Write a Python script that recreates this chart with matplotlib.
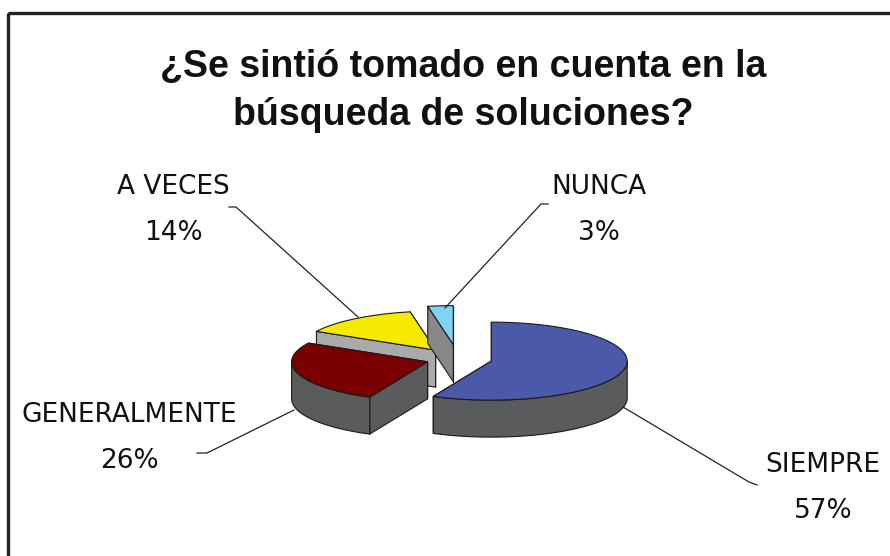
import numpy as np
import matplotlib
matplotlib.use("Agg")
import matplotlib.pyplot as plt
from matplotlib.patches import Polygon, Rectangle

# ---- data ----
categories = ["SIEMPRE", "GENERALMENTE", "A VECES", "NUNCA"]
values = [57, 26, 14, 3]
pct_labels = ["57%", "26%", "14%", "3%"]
title = "¿Se sintió tomado en cuenta en la\nbúsqueda de soluciones?"

# ---- style ----
top_colors = ["#4b5aa8", "#7a0000", "#f5ea00", "#80d3f4"]
face_colors = ["#5a5b5d", "#5a5b5d", "#a9aaac", "#87888a"]
wall_color = "#5a5b5d"
explode = [0.25, 0.235, 0.28, 0.37]
base = (458.0, 359.0)
rx, ry, depth = 136.0, 39.0, 37.0
draw_order = [2, 3, 1, 0]

label_pos = {"SIEMPRE": (823, 465), "GENERALMENTE": (129, 415),
             "A VECES": (173, 187), "NUNCA": (599, 187)}
leaders = {"SIEMPRE": [(623, 407), (749, 482), (757, 485)],
           "GENERALMENTE": [(294, 410), (207, 453), (197, 453)],
           "A VECES": [(358, 317), (236, 207), (229, 207)],
           "NUNCA": [(445, 308), (541, 204), (548, 204)]}

fig = plt.figure(figsize=(8.9, 5.56), dpi=100)
ax = fig.add_axes([0, 0, 1, 1])
ax.set_xlim(0, 890)
ax.set_ylim(556, 0)
ax.axis("off")

# frame (cut off at right/bottom)
ax.add_patch(Rectangle((7.5, 13), 900, 600, fill=False, ec="#222222", lw=2.4, zorder=1))

total = float(sum(values))
angles = []
start = 90.0
for v in values:
    sweep = 360.0 * v / total
    angles.append((start - sweep, start))  # ccw range [a, b]
    start -= sweep


def pt(c, th, dz=0.0):
    t = np.radians(th)
    return (c[0] + rx * np.cos(t), c[1] - ry * np.sin(t) + dz)


def arc(c, a, b, dz=0.0, n=80):
    ts = np.linspace(a, b, n)
    return [pt(c, t, dz) for t in ts]


edge_kw = dict(ec="#1a1a1a", lw=0.8, joinstyle="round")

for i in draw_order:
    a, b = angles[i]
    mid = np.radians((a + b) / 2)
    c = (base[0] + explode[i] * rx * np.cos(mid), base[1] - explode[i] * ry * np.sin(mid))
    cb = (c[0], c[1] + depth)
    faces = []
    for th, is_start in ((a, True), (b, False)):
        vis = np.cos(np.radians(th)) > 1e-6 if is_start else np.cos(np.radians(th)) < -1e-6
        faces.append((vis, th))
    faces.sort(key=lambda f: f[0])
    for vis, th in faces:
        poly = [c, pt(c, th), pt(c, th, depth), cb]
        ax.add_patch(Polygon(poly, closed=True, fc=face_colors[i] if vis else wall_color,
                             **edge_kw, zorder=2))
    for k in range(-1, 2):
        lo = max(a, 180 + 360 * k)
        hi = min(b, 360 + 360 * k)
        if hi > lo:
            poly = arc(c, lo, hi) + arc(c, hi, lo, depth)
            ax.add_patch(Polygon(poly, closed=True, fc=wall_color, **edge_kw, zorder=2))
    poly = [c] + arc(c, a, b)
    ax.add_patch(Polygon(poly, closed=True, fc=top_colors[i], **edge_kw, zorder=2))

label_font = ["DejaVu Sans"]
for name, pct in zip(categories, pct_labels):
    x, y = label_pos[name]
    ax.text(x, y, name, ha="center", va="center", fontsize=19,
            family=label_font, color="#111111", zorder=3)
    ax.text(x, y + 46, pct, ha="center", va="center", fontsize=19,
            family=label_font, color="#111111", zorder=3)
    xs, ys = zip(*leaders[name])
    ax.plot(xs, ys, color="#222222", lw=0.9, zorder=3)

ax.text(463, 91, title, ha="center", va="center", fontsize=27, fontweight="bold",
        family=["Liberation Sans", "DejaVu Sans"],
        linespacing=1.45, color="#111111", zorder=3)

fig.savefig("out.png", dpi=100)
